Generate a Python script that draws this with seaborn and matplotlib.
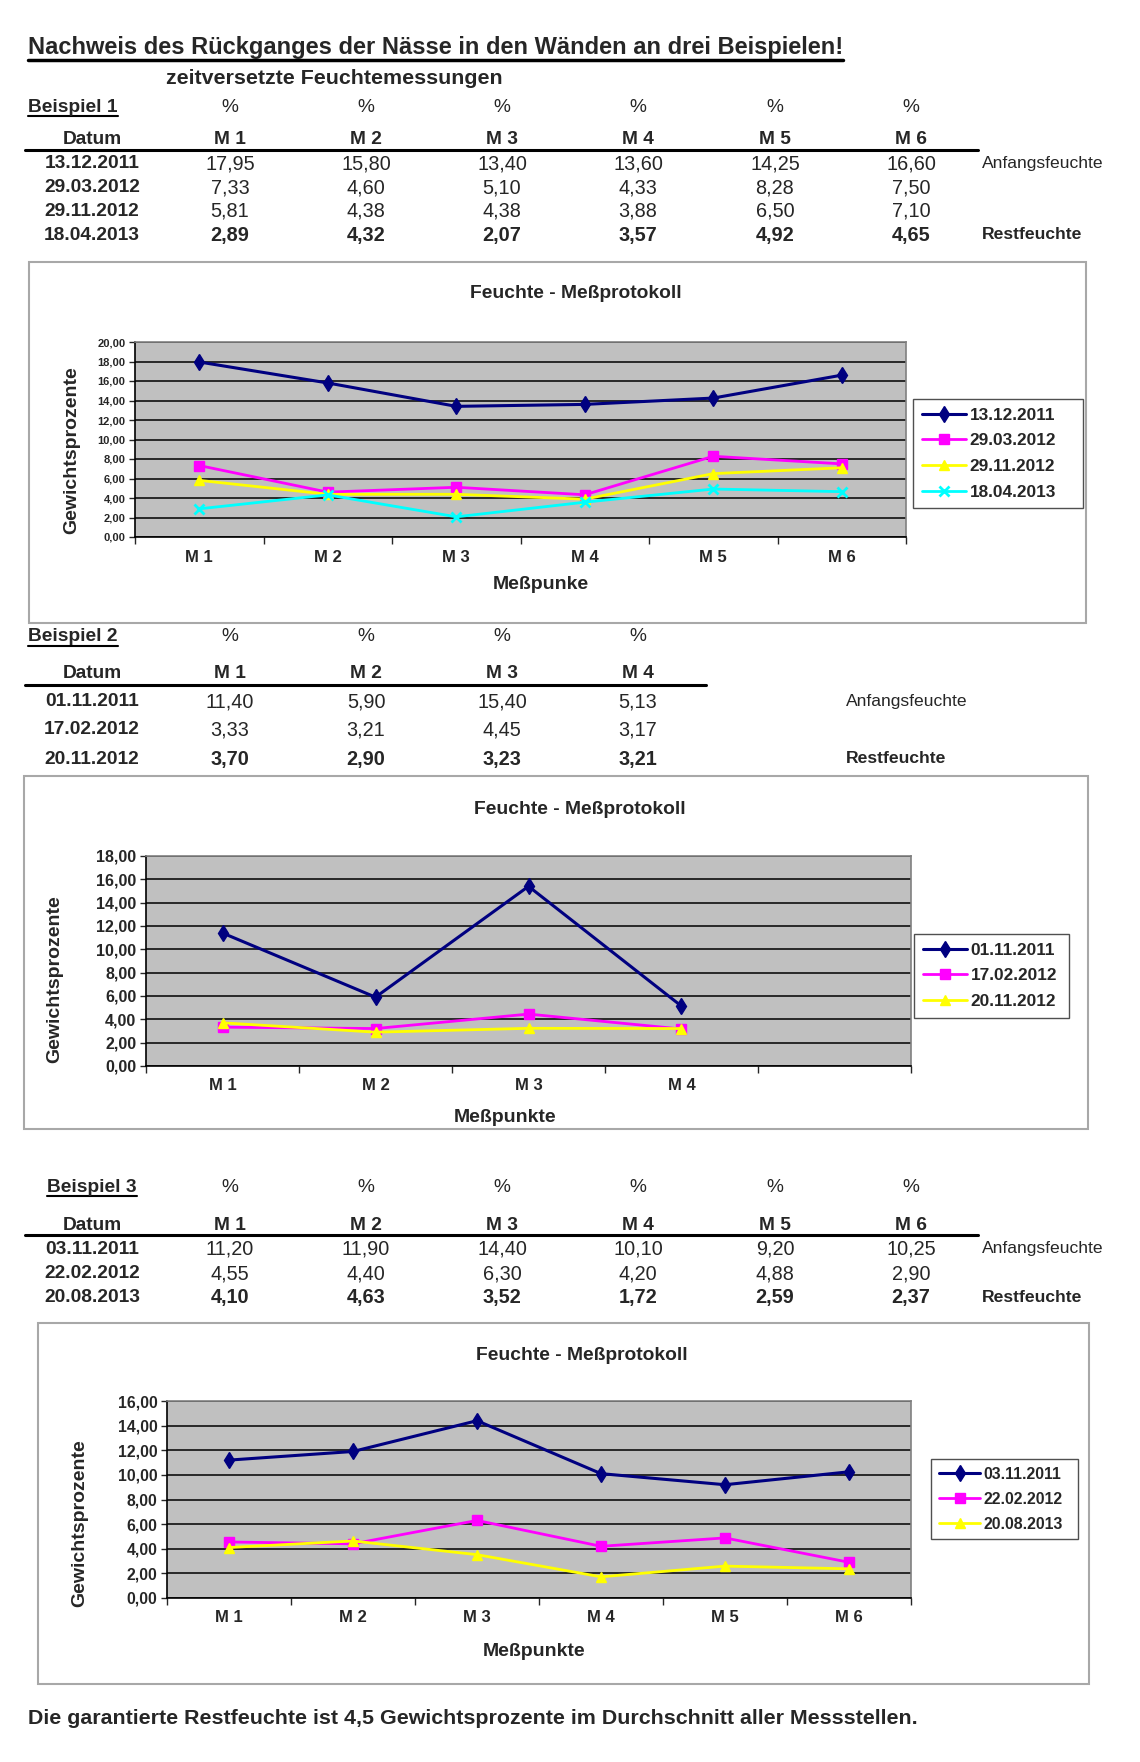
import numpy as np
import pandas as pd
import seaborn as sns
import matplotlib.pyplot as plt
from matplotlib.lines import Line2D
from matplotlib.patches import Rectangle
from matplotlib.ticker import FuncFormatter

W, H = 1140, 1762

title_text = "Nachweis des Rückganges der Nässe in den Wänden an drei Beispielen!"
subtitle_text = "zeitversetzte Feuchtemessungen"
footer_text = "Die garantierte Restfeuchte ist 4,5 Gewichtsprozente im Durchschnitt aller Messstellen."
chart_title = "Feuchte - Meßprotokoll"
y_label = "Gewichtsprozente"

points_6 = ["M 1", "M 2", "M 3", "M 4", "M 5", "M 6"]
points_4 = ["M 1", "M 2", "M 3", "M 4"]

# Beispiel 1
b1_dates = ["13.12.2011", "29.03.2012", "29.11.2012", "18.04.2013"]
b1_values = [[17.95, 15.80, 13.40, 13.60, 14.25, 16.60],
             [7.33, 4.60, 5.10, 4.33, 8.28, 7.50],
             [5.81, 4.38, 4.38, 3.88, 6.50, 7.10],
             [2.89, 4.32, 2.07, 3.57, 4.92, 4.65]]
b1_notes = ["Anfangsfeuchte", "", "", "Restfeuchte"]

# Beispiel 2
b2_dates = ["01.11.2011", "17.02.2012", "20.11.2012"]
b2_values = [[11.40, 5.90, 15.40, 5.13],
             [3.33, 3.21, 4.45, 3.17],
             [3.70, 2.90, 3.23, 3.21]]
b2_notes = ["Anfangsfeuchte", "", "Restfeuchte"]

# Beispiel 3
b3_dates = ["03.11.2011", "22.02.2012", "20.08.2013"]
b3_values = [[11.20, 11.90, 14.40, 10.10, 9.20, 10.25],
             [4.55, 4.40, 6.30, 4.20, 4.88, 2.90],
             [4.10, 4.63, 3.52, 1.72, 2.59, 2.37]]
b3_notes = ["Anfangsfeuchte", "", "Restfeuchte"]

series_colors = ["#000080", "#FF00FF", "#FFFF00", "#00FFFF"]
series_markers = ["d", "s", "^", "x"]
marker_sizes = [8.5, 6.5, 7.5, 7]

col_x = [230, 366, 502, 638, 775, 911]
date_x = 92

sns.set_style("white")
plt.rcParams['font.family'] = ['Liberation Sans', 'DejaVu Sans']

fig = plt.figure(figsize=(W / 100, H / 100), dpi=100)


def px(x):
    return x / W


def py(y):
    return 1 - y / H


def put(x, y, s, size=13.8, weight='bold', ha='center', va='center_baseline', **kw):
    return fig.text(px(x), py(y), s, fontsize=size, fontweight=weight,
                    ha=ha, va=va, **kw)


underlined = []


def fmt(v):
    return f"{v:.2f}".replace(".", ",")


def draw_table(label, label_x, label_y, head_y, line_y, line_end, row_ys,
               points, dates, values, notes, note_x):
    underlined.append((put(label_x, label_y, label, ha='left'), 1.5))
    put(date_x, head_y, "Datum")
    for i, p in enumerate(points):
        put(col_x[i], label_y, "%", weight='normal')
        put(col_x[i], head_y, p)
    fig.add_artist(Line2D([px(25), px(line_end)], [py(line_y)] * 2,
                          color='black', lw=2.2, transform=fig.transFigure))
    last = len(dates) - 1
    for r, (d, vals, note) in enumerate(zip(dates, values, notes)):
        w = 'bold' if r == last else 'normal'
        put(date_x, row_ys[r], d)
        for i, v in enumerate(vals):
            put(col_x[i], row_ys[r], fmt(v), size=14.3, weight=w)
        if note:
            put(note_x, row_ys[r], note, size=12.6, weight=w, ha='left')


def draw_chart(box, plot, legend_box, dates, values, points, n_slots, ymax,
               ytick_size, xtick_size, leg_size, title_y, ylab_xy, xlab,
               xlab_xy, title_x):
    bl, bt, br, bb = box
    fig.add_artist(Rectangle((px(bl), py(bb)), (br - bl) / W, (bb - bt) / H,
                             transform=fig.transFigure, facecolor='white',
                             edgecolor='#A8A8A8', lw=1.5, zorder=0))
    l, t, r, b = plot
    ax = fig.add_axes([px(l), py(b), (r - l) / W, (b - t) / H])
    ax.set_facecolor("#C0C0C0")
    for i, (d, vals) in enumerate(zip(dates, values)):
        sns.lineplot(x=points, y=vals, ax=ax, color=series_colors[i],
                     marker=series_markers[i], markersize=marker_sizes[i],
                     markeredgecolor=series_colors[i],
                     markeredgewidth=2.0 if series_markers[i] == 'x' else 1,
                     linewidth=2.2 if i == 0 else 2.0, label=d, sort=False)
    ax.set_xlim(-0.5, n_slots - 0.5)
    ax.set_ylim(0, ymax)
    ax.set_yticks(np.arange(0, ymax + 0.1, 2))
    ax.yaxis.set_major_formatter(FuncFormatter(lambda v, p: fmt(v)))
    ax.set_xticks(np.arange(-0.5, n_slots), minor=True)
    ax.yaxis.grid(True, color='black', lw=1.1)
    ax.set_axisbelow(True)
    ax.tick_params(axis='y', direction='out', length=4, width=1,
                   labelsize=ytick_size, pad=3, left=True)
    ax.tick_params(axis='x', which='major', length=0, labelsize=xtick_size, pad=9)
    ax.tick_params(axis='x', which='minor', direction='out', length=5,
                   width=1, bottom=True)
    for lab in ax.get_yticklabels() + ax.get_xticklabels():
        lab.set_fontweight('bold')
    ax.set_xlabel("")
    ax.set_ylabel("")
    for side in ['left', 'bottom']:
        ax.spines[side].set_color('black')
        ax.spines[side].set_linewidth(1.2)
    for side in ['top', 'right']:
        ax.spines[side].set_color('#808080')
        ax.spines[side].set_linewidth(1.2)

    ll, lt, lr, lb = legend_box
    leg = ax.legend(loc='upper left', bbox_to_anchor=(px(ll), py(lt), (lr - ll) / W, 0.0),
                    bbox_transform=fig.transFigure, mode='expand', borderaxespad=0,
                    frameon=True, fancybox=False, edgecolor='#505050',
                    facecolor='white', framealpha=1,
                    prop={'weight': 'bold', 'size': leg_size},
                    handlelength=2.6, handletextpad=0.2, labelspacing=0.62,
                    borderpad=0.5)
    leg.get_frame().set_linewidth(1)

    put(title_x, title_y, chart_title, size=13.9)
    put(ylab_xy[0], ylab_xy[1], y_label, size=14, rotation=90, va='center')
    put(xlab_xy[0], xlab_xy[1], xlab, size=14)
    return ax


# header
underlined.append((put(28, 45, title_text, size=17, ha='left'), 2.5))
put(166, 76, subtitle_text, size=15.4, ha='left')

draw_table("Beispiel 1", 28, 105, 138, 150, 978, [162, 186, 209, 233],
           points_6, b1_dates, b1_values, b1_notes, 982)
draw_chart((29, 262, 1086, 623), (135, 342, 906, 537), (913, 399, 1083, 512),
           b1_dates, b1_values, points_6, 6, 20, 8, 12, 12.4,
           291, (72, 450), "Meßpunke", (541, 582), 576)

draw_table("Beispiel 2", 28, 635, 672, 685, 706, [700, 728, 757],
           points_4, b2_dates, b2_values, b2_notes, 846)
draw_chart((24, 776, 1088, 1129), (146, 856, 911, 1066), (914, 934, 1069, 1023),
           b2_dates, b2_values, points_4, 5, 18, 11.5, 12, 12.4,
           808, (55, 979), "Meßpunkte", (505, 1115), 580)

draw_table("Beispiel 3", 47, 1185, 1223, 1235, 978, [1247, 1272, 1296],
           points_6, b3_dates, b3_values, b3_notes, 982)
draw_chart((38, 1323, 1089, 1684), (167, 1401, 911, 1598), (931, 1459, 1078, 1539),
           b3_dates, b3_values, points_6, 6, 16, 11.3, 12, 11.4,
           1353, (80, 1523), "Meßpunkte", (534, 1650), 582)

put(28, 1716, footer_text, size=15.4, ha='left')

# underline the title and the Beispiel labels
fig.canvas.draw()
renderer = fig.canvas.get_renderer()
for t, lw in underlined:
    bb = t.get_window_extent(renderer)
    fig.add_artist(Line2D([bb.x0 / W, bb.x1 / W], [(bb.y0 - 0.5) / H] * 2,
                          color='black', lw=lw, transform=fig.transFigure))

fig.savefig("out.png", dpi=100)
